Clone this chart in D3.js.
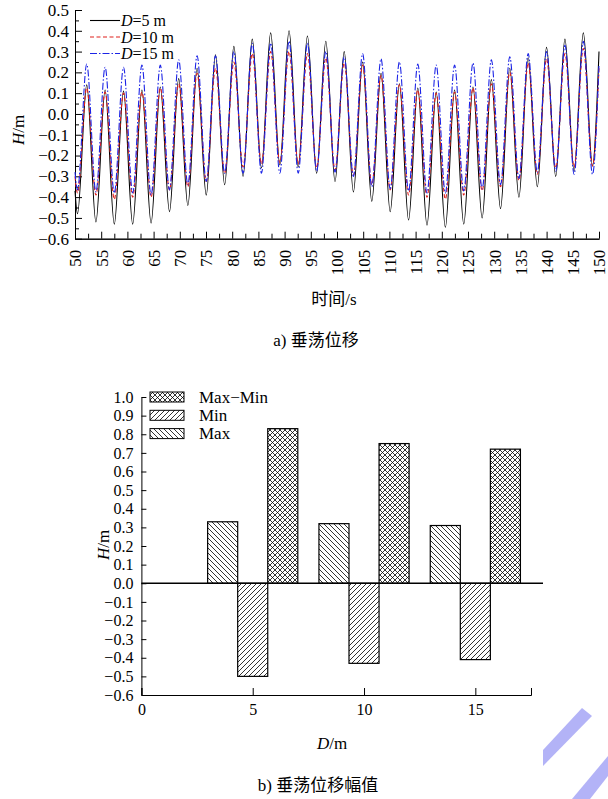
<!DOCTYPE html>
<html lang="zh">
<head>
<meta charset="UTF-8">
<title>垂荡位移</title>
<script src="https://cdn.jsdelivr.net/npm/d3@7"></script>
<style>
  body { margin: 0; background: #fff; }
  svg { display: block; font-family: "Liberation Serif", "Times New Roman", "Noto Sans CJK SC", serif; }
  .axis path, .axis line { stroke: #000; stroke-width: 1; }
  .axis text { font-size: 16px; fill: #000; font-family: "Liberation Serif", serif; }
  .axisA text { font-size: 17px; }
</style>
</head>
<body>
<svg id="chart" width="608" height="799"></svg>
<script>
"use strict";

// ---- (a) heave time series: extrema, plus both ends ----
var times = [50, 50.48, 52.24, 53.99, 55.75, 57.50, 59.26, 61.01, 62.77, 64.52, 66.28,
  68.03, 69.79, 71.54, 73.30, 75.05, 76.81, 78.56, 80.32, 82.07, 83.83, 85.58, 87.34,
  89.09, 90.85, 92.60, 94.36, 96.11, 97.87, 99.62, 101.38, 103.13, 104.89, 106.64,
  108.40, 110.15, 111.91, 113.66, 115.42, 117.17, 118.93, 120.68, 122.44, 124.19,
  125.95, 127.70, 129.46, 131.21, 132.97, 134.72, 136.48, 138.23, 139.99, 141.74,
  143.50, 145.25, 147.01, 148.76, 150];

var heaveD5 = [-0.37, -0.48, 0.14, -0.52, 0.115, -0.53, 0.11, -0.53, 0.115, -0.525, 0.13,
  -0.47, 0.17, -0.44, 0.22, -0.39, 0.285, -0.34, 0.325, -0.30, 0.36, -0.26, 0.39,
  -0.245, 0.40, -0.255, 0.375, -0.285, 0.35, -0.325, 0.30, -0.375, 0.25, -0.42, 0.195,
  -0.47, 0.145, -0.51, 0.125, -0.535, 0.105, -0.545, 0.115, -0.53, 0.13, -0.50, 0.165,
  -0.455, 0.22, -0.40, 0.27, -0.35, 0.32, -0.30, 0.36, -0.275, 0.39, -0.25, 0.30];

var heaveD10 = [-0.30, -0.38, 0.125, -0.39, 0.105, -0.41, 0.10, -0.40, 0.105, -0.40, 0.125,
  -0.365, 0.145, -0.35, 0.195, -0.325, 0.22, -0.285, 0.25, -0.255, 0.29, -0.24, 0.30,
  -0.235, 0.30, -0.24, 0.29, -0.26, 0.27, -0.27, 0.245, -0.295, 0.235, -0.34, 0.185,
  -0.365, 0.14, -0.39, 0.115, -0.40, 0.10, -0.41, 0.105, -0.39, 0.125, -0.37, 0.145,
  -0.35, 0.20, -0.32, 0.245, -0.29, 0.265, -0.26, 0.29, -0.255, 0.315, -0.25, 0.22];

var heaveD15 = [-0.28, -0.365, 0.24, -0.375, 0.225, -0.38, 0.225, -0.38, 0.235, -0.39, 0.235,
  -0.365, 0.26, -0.34, 0.28, -0.325, 0.28, -0.285, 0.30, -0.285, 0.34, -0.285, 0.34,
  -0.285, 0.35, -0.285, 0.34, -0.275, 0.30, -0.28, 0.275, -0.30, 0.29, -0.35, 0.265,
  -0.36, 0.25, -0.37, 0.24, -0.38, 0.235, -0.38, 0.235, -0.37, 0.245, -0.36, 0.26,
  -0.34, 0.275, -0.31, 0.29, -0.28, 0.30, -0.275, 0.33, -0.29, 0.35, -0.29, 0.24];

var lineLabels = ["5", "10", "15"];
var timeTicks = [50, 55, 60, 65, 70, 75, 80, 85, 90, 95, 100, 105, 110, 115, 120, 125, 130, 135, 140, 145, 150];
var heaveTicks = [-0.6, -0.5, -0.4, -0.3, -0.2, -0.1, 0.0, 0.1, 0.2, 0.3, 0.4, 0.5];

// ---- (b) heave amplitude per D ----
var depths = [5, 10, 15];
var maxVals = [0.33, 0.32, 0.31];
var minVals = [-0.50, -0.43, -0.41];
var rangeVals = [0.83, 0.75, 0.72];
var barNames = ["Max\u2212Min", "Min", "Max"];
var depthTicks = [0, 5, 10, 15];
var ampTicks = [-0.6, -0.5, -0.4, -0.3, -0.2, -0.1, 0.0, 0.1, 0.2, 0.3, 0.4, 0.5, 0.6, 0.7, 0.8, 0.9, 1.0];

var svg = d3.select("#chart");
var fmt = d3.format(".1f");

// hatch patterns
var defs = svg.append("defs");
function hatch(id, d) {
  defs.append("pattern")
    .attr("id", id)
    .attr("patternUnits", "userSpaceOnUse")
    .attr("width", 5).attr("height", 5)
    .append("path")
    .attr("d", d)
    .attr("stroke", "#000")
    .attr("stroke-width", 0.8)
    .attr("fill", "none");
}
hatch("hatchBack", "M0,0L5,5M-1,4L1,6M4,-1L6,1");
hatch("hatchFwd", "M0,5L5,0M-1,1L1,-1M4,6L6,4");
hatch("hatchCross", "M0,0L5,5M-1,4L1,6M4,-1L6,1M0,5L5,0M-1,1L1,-1M4,6L6,4");

// ================= chart (a) =================
var xA = d3.scaleLinear().domain([50, 150]).range([75, 599]);
var yA = d3.scaleLinear().domain([-0.6, 0.5]).range([238.7, 10]);

var gA = svg.append("g");

// minor ticks
gA.append("g").attr("class", "axis")
  .attr("transform", "translate(75,0)")
  .call(d3.axisLeft(yA).tickValues(d3.range(-0.55, 0.5, 0.1)).tickSize(-4).tickSizeOuter(0).tickFormat(""));
gA.append("g").attr("class", "axis")
  .attr("transform", "translate(0,238.7)")
  .call(d3.axisBottom(xA).tickValues(d3.range(52.5, 150, 5)).tickSize(-5).tickSizeOuter(0).tickFormat(""));

gA.append("g").attr("class", "axis axisA")
  .attr("transform", "translate(75,0)")
  .call(d3.axisLeft(yA).tickValues(heaveTicks).tickSize(-7).tickSizeOuter(0).tickPadding(6).tickFormat(fmt));

var xAxisA = gA.append("g").attr("class", "axis axisA")
  .attr("transform", "translate(0,238.7)")
  .call(d3.axisBottom(xA).tickValues(timeTicks).tickSize(-7).tickSizeOuter(0));
xAxisA.selectAll(".tick text")
  .attr("transform", "rotate(-90)")
  .attr("text-anchor", "end")
  .attr("x", -11).attr("y", 0).attr("dy", "0.35em");

var lineA = d3.line()
  .x(function (d, i) { return xA(times[i]); })
  .y(function (d) { return yA(d); })
  .curve(d3.curveMonotoneX);

var styles = [
  { color: "#000000", dash: null, width: 1.1 },
  { color: "#e0201c", dash: "4,2.5", width: 1.1 },
  { color: "#1c24e6", dash: "7,2,1.5,2", width: 1.1 }
];
[heaveD5, heaveD10, heaveD15].forEach(function (vals, k) {
  gA.append("path")
    .datum(vals)
    .attr("d", lineA)
    .attr("fill", "none")
    .attr("stroke", styles[k].color)
    .attr("stroke-width", styles[k].width)
    .attr("stroke-dasharray", styles[k].dash);
});

// legend (a)
var legA = gA.append("g");
lineLabels.forEach(function (lab, k) {
  var yy = 20.5 + k * 16.5;
  legA.append("line")
    .attr("x1", 90).attr("x2", 120).attr("y1", yy).attr("y2", yy)
    .attr("stroke", styles[k].color)
    .attr("stroke-width", styles[k].width)
    .attr("stroke-dasharray", styles[k].dash);
  var t = legA.append("text").attr("x", 121).attr("y", yy + 5.5).attr("font-size", 16);
  t.append("tspan").attr("font-style", "italic").text("D");
  t.append("tspan").text("=" + lab + " m");
});

// axis titles (a)
var hA = svg.append("text")
  .attr("transform", "translate(24,130) rotate(-90)")
  .attr("text-anchor", "middle").attr("font-size", 17);
hA.append("tspan").attr("font-style", "italic").text("H");
hA.append("tspan").text("/m");

svg.append("text").attr("x", 334).attr("y", 305)
  .attr("text-anchor", "middle").attr("font-size", 17).text("时间/s");
svg.append("text").attr("x", 316).attr("y", 346)
  .attr("text-anchor", "middle").attr("font-size", 17).text("a) 垂荡位移");

// ================= chart (b) =================
var xB = d3.scaleLinear().domain([0, 17.5]).range([141.4, 531]);
var yB = d3.scaleLinear().domain([-0.6, 1.0]).range([695, 397]);
var barW = 1.35;

var gB = svg.append("g");

gB.append("g").attr("class", "axis")
  .attr("transform", "translate(141.4,0)")
  .call(d3.axisLeft(yB).tickValues(ampTicks).tickSize(-5).tickSizeOuter(0).tickPadding(8).tickFormat(fmt));

gB.append("g").attr("class", "axis")
  .attr("transform", "translate(0,695)")
  .call(d3.axisBottom(xB).tickValues(depthTicks).tickSize(-7).tickSizeOuter(-7).tickPadding(9).tickFormat(d3.format("d")));

var groups = [
  { vals: maxVals, off: -1, fill: "url(#hatchBack)" },
  { vals: minVals, off: 0, fill: "url(#hatchFwd)" },
  { vals: rangeVals, off: 1, fill: "url(#hatchCross)" }
];
groups.forEach(function (g) {
  gB.selectAll(null)
    .data(g.vals)
    .enter().append("rect")
    .attr("x", function (d, i) { return xB(depths[i] + (g.off - 0.5) * barW); })
    .attr("width", xB(barW) - xB(0))
    .attr("y", function (d) { return yB(Math.max(d, 0)); })
    .attr("height", function (d) { return Math.abs(yB(d) - yB(0)); })
    .attr("fill", g.fill)
    .attr("stroke", "#000")
    .attr("stroke-width", 1.2);
});

// zero line
gB.append("line")
  .attr("x1", xB(0)).attr("x2", 543)
  .attr("y1", yB(0)).attr("y2", yB(0))
  .attr("stroke", "#000").attr("stroke-width", 1.5);

// legend (b)
var legFills = ["url(#hatchCross)", "url(#hatchFwd)", "url(#hatchBack)"];
barNames.forEach(function (name, k) {
  var yy = 397 + k * 18.3;
  gB.append("rect")
    .attr("x", 150).attr("y", yy - 5).attr("width", 34).attr("height", 10)
    .attr("fill", legFills[k]).attr("stroke", "#000").attr("stroke-width", 1);
  gB.append("text").attr("x", 199).attr("y", yy + 5.5).attr("font-size", 17).text(name);
});

var hB = svg.append("text")
  .attr("transform", "translate(109,545) rotate(-90)")
  .attr("text-anchor", "middle").attr("font-size", 17);
hB.append("tspan").attr("font-style", "italic").text("H");
hB.append("tspan").text("/m");

var dB = svg.append("text").attr("x", 332).attr("y", 749)
  .attr("text-anchor", "middle").attr("font-size", 17);
dB.append("tspan").attr("font-style", "italic").text("D");
dB.append("tspan").text("/m");

svg.append("text").attr("x", 318).attr("y", 791)
  .attr("text-anchor", "middle").attr("font-size", 17).text("b) 垂荡位移幅值");

// watermark stripes
svg.append("polygon").attr("points", "543,750 582,708 592,716 543,766").attr("fill", "#b3b3f7");
svg.append("polygon").attr("points", "572,799 608,756 608,776 590,799").attr("fill", "#b3b3f7");
</script>
</body>
</html>
